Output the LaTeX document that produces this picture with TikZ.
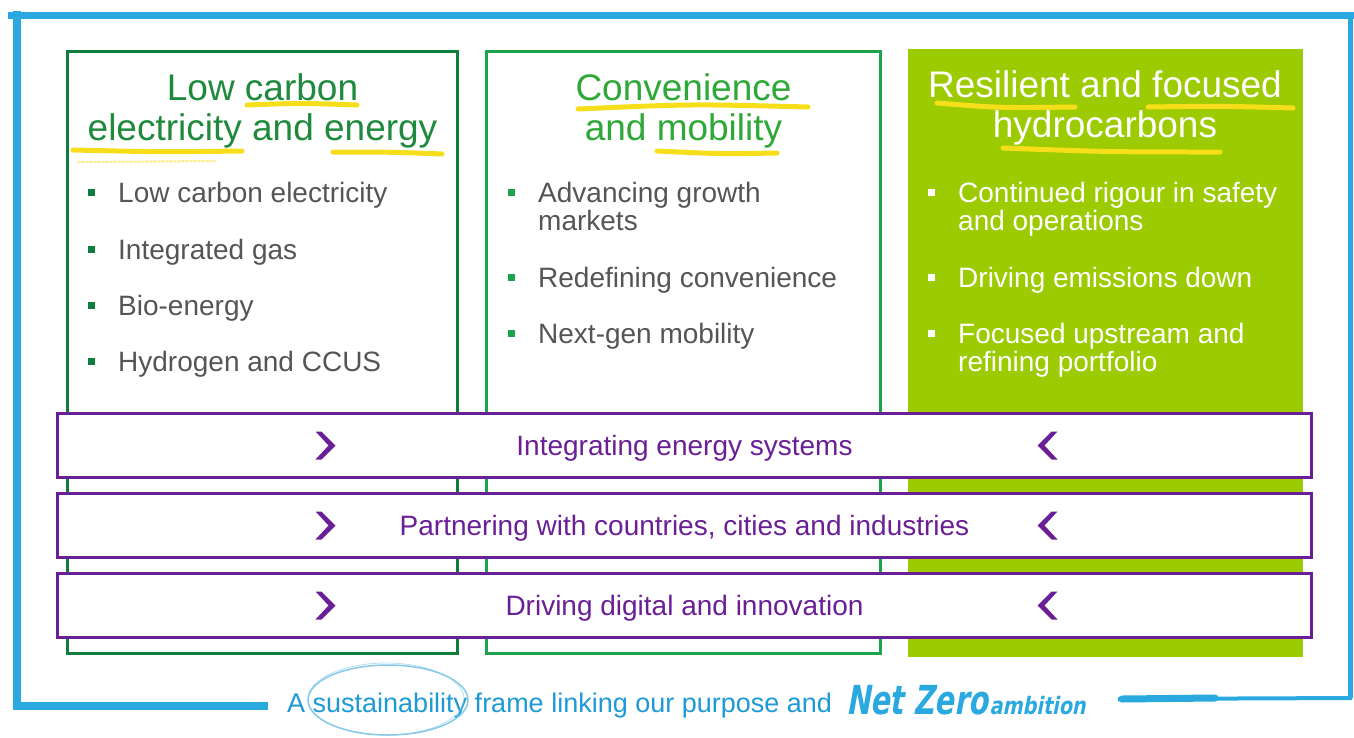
\documentclass[tikz,border=0pt]{standalone}
\usepackage{fontspec}
\setmainfont{Liberation Sans}
\newfontfamily\handfont{DejaVu Sans}[FakeSlant=0.25]
\usepackage{tikz}
\usetikzlibrary{positioning}

\definecolor{frameblue}{HTML}{2AA9E0}
\definecolor{footblue}{HTML}{1D9AD6}
\definecolor{ringblue}{HTML}{86C9E8}
\definecolor{darkgreen}{HTML}{0E7C3A}
\definecolor{darktitle}{HTML}{1F8A3C}
\definecolor{midgreen}{HTML}{1BA44C}
\definecolor{midtitle}{HTML}{2EA836}
\definecolor{lime}{HTML}{9BCB00}
\definecolor{bandpurple}{HTML}{6A1F96}
\definecolor{bodygray}{HTML}{555555}
\definecolor{hlyellow}{HTML}{F6DF1A}

% small square bullet hanging left of an item
\newcommand{\bulletsq}[1]{\llap{\textcolor{#1}{\rule[6pt]{7pt}{7pt}}\hspace{23pt}}}

\begin{document}
\begin{tikzpicture}[x=1pt,y=-1pt,node distance=13pt]
  \tikzstyle{colbox}=[minimum width=390pt,minimum height=602pt,line width=3pt,inner sep=0pt]
  \tikzstyle{coltitle}=[anchor=north,align=center,inner sep=0pt,font=\fontsize{37}{40}\selectfont]
  \tikzstyle{item}=[anchor=north west,align=left,inner sep=0pt,text=bodygray,font=\fontsize{28}{28}\selectfont]
  \tikzstyle{band}=[draw=bandpurple,fill=white,line width=3pt,minimum width=1254pt,minimum height=64pt,text height=19pt,text depth=0pt,text=bandpurple,font=\fontsize{28}{28}\selectfont]
  \tikzstyle{hl}=[draw=hlyellow,line width=5pt,line cap=round]
  \tikzstyle{rim}=[draw=frameblue,line cap=butt]
  \tikzset{chevr/.pic={\fill[bandpurple] (-10,-14) -- (-4,-14) -- (10,0) -- (-4,14) -- (-10,14) -- (3,0) -- cycle;}}

  \fill[white] (0,0) rectangle (1354,737);
  \useasboundingbox (0,0) rectangle (1354,737);

  % blue hand-drawn frame
  \draw[rim,line width=7pt] (8,15) -- (1354,15);
  \draw[rim,line width=8pt] (17,11) -- (17,710);
  \draw[rim,line width=8pt] (13,706) -- (268,706);
  \draw[rim,line width=5pt] (1350,15) -- (1350,698);
  \draw[rim,line width=4pt] (1118,699) -- (1352,698);
  \draw[rim,line width=7pt,line cap=round] (1122,699) -- (1215,698);

  % the three columns
  \node[colbox,draw=darkgreen] (lowcol) at (262.5,352.5) {};
  \node[colbox,draw=midgreen,minimum width=394pt,right=26pt of lowcol] (convcol) {};
  \node[colbox,fill=lime,minimum width=395pt,minimum height=608pt,right=24pt of convcol] (hydrocol) {};

  % highlighter strokes
  \draw[hl] (247,105) .. controls (300,103) .. (357,105);
  \draw[hl] (73,150) .. controls (160,152) .. (242,151);
  \draw[hl] (333,152) .. controls (390,152) .. (442,154);
  \draw[hl,line width=2pt,dotted,opacity=.5] (78,162) -- (215,161);
  \draw[hl] (578,109) .. controls (690,104) .. (808,107);
  \draw[hl] (657,151) .. controls (720,154) .. (777,153);
  \draw[hl] (937,103) .. controls (1000,108) .. (1075,107);
  \draw[hl] (1148,107) .. controls (1220,106) .. (1293,108);
  \draw[hl] (1003,148) .. controls (1110,152) .. (1220,152);

  \node[coltitle,text=darktitle,below=23pt of lowcol.north] (lowtitle) {Low carbon\\electricity and energy};
  \node[coltitle,text=midtitle,below=23pt of convcol.north] (convtitle) {Convenience\\and mobility};
  \node[coltitle,text=white,below=23pt of hydrocol.north] (hydrotitle) {Resilient and focused\\hydrocarbons};

  % bullet lists
  \foreach \ty/\txt [count=\i] in {181.6/Low carbon electricity,238.6/Integrated gas,294.6/Bio-energy,350.6/Hydrogen and CCUS}
    \node[item] (lowitem\i) at (118,\ty) {\bulletsq{darkgreen}\txt};
  \foreach \ty/\txt [count=\i] in {181.6/{Advancing growth\\markets},266.6/Redefining convenience,322.6/Next-gen mobility}
    \node[item] (convitem\i) at (538,\ty) {\bulletsq{midgreen}\txt};
  \foreach \ty/\txt [count=\i] in {181.6/{Continued rigour in safety\\and operations},266.6/Driving emissions down,322.6/{Focused upstream and\\refining portfolio}}
    \node[item,text=white] (hydroitem\i) at (958,\ty) {\bulletsq{white}\txt};

  % enablers across all columns
  \node[band] (integ) at (684.5,445.5) {Integrating energy systems};
  \node[band,below=of integ] (partner) {Partnering with countries, cities and industries};
  \node[band,below=of partner] (digital) {Driving digital and innovation};
  \foreach \b in {integ,partner,digital}{
    \pic at ([xshift=-359pt]\b.center) {chevr};
    \pic[xscale=-1] at ([xshift=363pt]\b.center) {chevr};
  }

  % footer line
  \node[anchor=base west,inner sep=0pt,text=footblue,font=\fontsize{27}{27}\selectfont] (footer) at (287,712) {A sustainability frame linking our purpose and};
  \draw[ringblue,line width=1.5pt] (388,700) ellipse [x radius=80,y radius=35];
  \draw[ringblue,line width=.8pt,opacity=.6] (386,699) ellipse [x radius=78,y radius=36];
  \node[anchor=base west,inner sep=0pt,text=frameblue,font=\handfont\bfseries] (netzero) at (846,714)
    {\scalebox{0.72}[1]{\fontsize{40}{40}\selectfont Net Zero}\,\scalebox{0.8}[1]{\fontsize{24}{24}\selectfont ambition}};
\end{tikzpicture}
\end{document}
